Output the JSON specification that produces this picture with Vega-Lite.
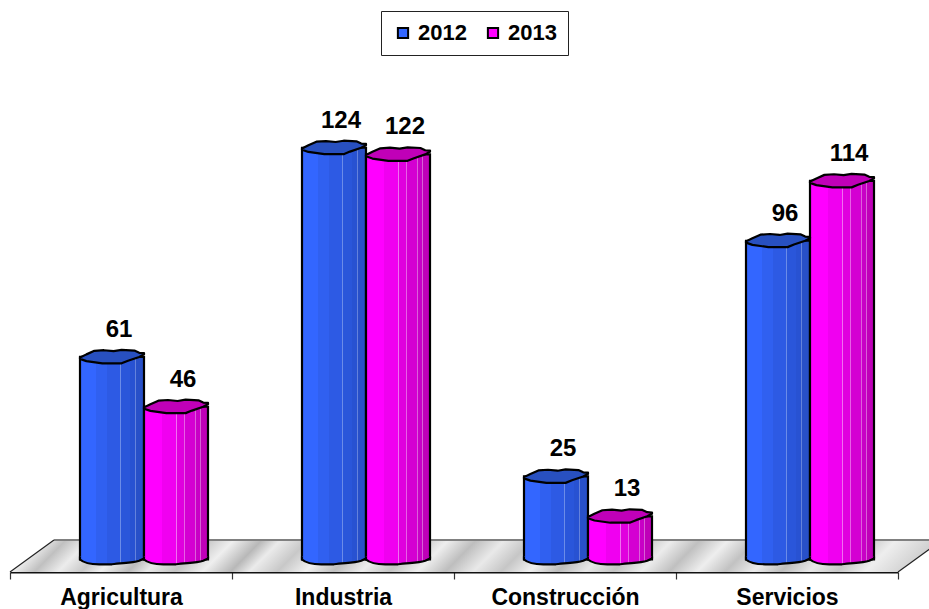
{
"$schema":"https://vega.github.io/schema/vega-lite/v6.json",
"width":929,"height":572,
"autosize":{"type":"none"},
"padding":{"left":0,"top":0,"right":0,"bottom":37},
"background":"white",
"config":{"view":{"stroke":null},"font":"Liberation Sans"},
"datasets":{
"rows":[
{"sector":"Agricultura","year":"2012","value":61},
{"sector":"Agricultura","year":"2013","value":46},
{"sector":"Industria","year":"2012","value":124},
{"sector":"Industria","year":"2013","value":122},
{"sector":"Construcción","year":"2012","value":25},
{"sector":"Construcción","year":"2013","value":13},
{"sector":"Servicios","year":"2012","value":96},
{"sector":"Servicios","year":"2013","value":114}
],
"floor":[
{"p":0,"top":-3.77,"bottom":-3.77},
{"p":0.198,"top":5.87,"bottom":-3.77},
{"p":4,"top":5.87,"bottom":-3.77},
{"p":4.198,"top":5.87,"bottom":5.87}
],
"edges":[
{"edge":"left","p":0,"v":-3.77},
{"edge":"left","p":0.198,"v":5.87},
{"edge":"back","p":0.198,"v":5.87},
{"edge":"back","p":4.198,"v":5.87},
{"edge":"right","p":4,"v":-3.77},
{"edge":"right","p":4.198,"v":5.87}
]
},
"resolve":{"scale":{"x":"independent"},"axis":{"x":"independent"}},
"layer":[
{
"data":{"name":"floor"},
"layer":[
{"mark":{"type":"area","clip":true,"fill":{"gradient":"linear","x1":0,"y1":0,"x2":1,"y2":0.034,"stops":[
{"offset":0,"color":"#eeeeee"},{"offset":0.02,"color":"#c4c4c4"},{"offset":0.035,"color":"#f0f0f0"},{"offset":0.06,"color":"#c0c0c0"},{"offset":0.085,"color":"#ececec"},{"offset":0.11,"color":"#cacaca"},{"offset":0.13,"color":"#f0f0f0"},{"offset":0.16,"color":"#bcbcbc"},{"offset":0.18,"color":"#e8e8e8"},{"offset":0.21,"color":"#c4c4c4"},{"offset":0.24,"color":"#efefef"},{"offset":0.27,"color":"#b8b8b8"},{"offset":0.29,"color":"#ebebeb"},{"offset":0.32,"color":"#c8c8c8"},{"offset":0.35,"color":"#f0f0f0"},{"offset":0.38,"color":"#c0c0c0"},{"offset":0.41,"color":"#ececec"},{"offset":0.44,"color":"#c4c4c4"},{"offset":0.47,"color":"#eeeeee"},{"offset":0.5,"color":"#bebebe"},{"offset":0.53,"color":"#e9e9e9"},{"offset":0.56,"color":"#c6c6c6"},{"offset":0.59,"color":"#f0f0f0"},{"offset":0.62,"color":"#bcbcbc"},{"offset":0.65,"color":"#e6e6e6"},{"offset":0.68,"color":"#c4c4c4"},{"offset":0.71,"color":"#ececec"},{"offset":0.74,"color":"#c0c0c0"},{"offset":0.77,"color":"#eeeeee"},{"offset":0.8,"color":"#c2c2c2"},{"offset":0.83,"color":"#ececec"},{"offset":0.86,"color":"#bebebe"},{"offset":0.89,"color":"#e8e8e8"},{"offset":0.92,"color":"#c8c8c8"},{"offset":0.95,"color":"#eeeeee"},{"offset":1,"color":"#cccccc"}
]}},
"encoding":{
"x":{"field":"p","type":"quantitative","axis":null,"scale":{"domain":[-0.045045,4.13964],"nice":false,"zero":false}},
"y":{"field":"top","type":"quantitative","axis":null,"scale":{"domain":[-3.77,168.5],"nice":false,"zero":false}},
"y2":{"field":"bottom"}
}},
{"data":{"name":"edges"},"transform":[{"filter":"datum.edge==='back'"}],
"mark":{"type":"line","clip":true,"stroke":"#808080","strokeWidth":2},
"encoding":{"x":{"field":"p","type":"quantitative","axis":null},"y":{"field":"v","type":"quantitative"}}},
{"data":{"name":"edges"},"transform":[{"filter":"datum.edge!=='back'"}],
"mark":{"type":"line","clip":true,"stroke":"#222222","strokeWidth":1.2},
"encoding":{"x":{"field":"p","type":"quantitative","axis":null},"y":{"field":"v","type":"quantitative"},"detail":{"field":"edge"}}}
]
},
{
"data":{"name":"rows"},
"encoding":{
"x":{"field":"sector","type":"nominal","sort":["Agricultura","Industria","Construcción","Servicios"],
"scale":{"range":[10,898],"paddingInner":0,"paddingOuter":0},
"axis":{"title":null,"orient":"bottom","labelAngle":0,"domainColor":"#111111","domainWidth":2,"tickColor":"#333333","tickWidth":1.2,"tickSize":7,"tickBand":"extent","labelFontSize":23,"labelFontWeight":"bold","labelColor":"black","labelFont":"Liberation Sans","labelPadding":7,"grid":false}},
"xOffset":{"field":"year","type":"nominal","scale":{"range":[70,198],"paddingInner":0,"paddingOuter":0}}
},
"layer":[
{"mark":{"type":"bar"},
"encoding":{
"y":{"field":"value","type":"quantitative","stack":null,"axis":null},
"fill":{"field":"year","type":"nominal","scale":{"domain":["2012","2013"],"range":["#3366ff","#ff00ff"]},
"legend":{"title":null,"orient":"none","legendX":381,"legendY":11,"direction":"horizontal","columns":2,"padding":11,"columnPadding":15,"strokeColor":"#222222","fillColor":"white","symbolType":"square","symbolSize":105,"symbolStrokeColor":"black","symbolStrokeWidth":2,"labelFontSize":22,"labelFontWeight":"bold","labelFont":"Liberation Sans","labelColor":"black","labelOffset":4}}
}},
{"mark":{"type":"bar","stroke":"black","strokeWidth":2.2},
"encoding":{
"y":{"field":"value","type":"quantitative","stack":null,"axis":null},
"fill":{"condition":{"test":"datum.year==='2012'","value":{"gradient":"linear","x1":0,"y1":0,"x2":1,"y2":0,"stops":[
{"offset":0,"color":"#3366ff"},{"offset":0.25,"color":"#3366ff"},{"offset":0.25,"color":"#3060f0"},{"offset":0.42,"color":"#3060f0"},{"offset":0.42,"color":"#2d5ae4"},{"offset":0.63,"color":"#2d5ae4"},{"offset":0.63,"color":"#6b8ce8"},{"offset":0.645,"color":"#6b8ce8"},{"offset":0.645,"color":"#2a56da"},{"offset":0.78,"color":"#2a56da"},{"offset":0.78,"color":"#2852d2"},{"offset":0.86,"color":"#2852d2"},{"offset":0.86,"color":"#6482dc"},{"offset":0.875,"color":"#6482dc"},{"offset":0.875,"color":"#2850c8"},{"offset":1,"color":"#2850c8"}
]}},"value":{"gradient":"linear","x1":0,"y1":0,"x2":1,"y2":0,"stops":[
{"offset":0,"color":"#ff00ff"},{"offset":0.28,"color":"#ff00ff"},{"offset":0.28,"color":"#f000f0"},{"offset":0.5,"color":"#f000f0"},{"offset":0.5,"color":"#f070f0"},{"offset":0.515,"color":"#f070f0"},{"offset":0.515,"color":"#e000de"},{"offset":0.63,"color":"#e000de"},{"offset":0.63,"color":"#e860e6"},{"offset":0.645,"color":"#e860e6"},{"offset":0.645,"color":"#d400d2"},{"offset":0.8,"color":"#d400d2"},{"offset":0.8,"color":"#dc60da"},{"offset":0.815,"color":"#dc60da"},{"offset":0.815,"color":"#c800c6"},{"offset":0.88,"color":"#c800c6"},{"offset":0.88,"color":"#d860d6"},{"offset":0.895,"color":"#d860d6"},{"offset":0.895,"color":"#bf00b8"},{"offset":1,"color":"#bf00b8"}
]}}
}},
{"mark":{"type":"point","filled":true,"opacity":1,"size":4096,"stroke":"black","strokeWidth":2.2,"strokeJoin":"round",
"shape":"M-1 -.09 L-1 0 C-.9 .09 -.7 .15 -.4 .15 L0 .15 C.3 .1 .6 .12 .85 .04 L1 -.03 L1 -.09"},
"encoding":{
"y":{"datum":0,"type":"quantitative"},
"fill":{"condition":{"test":"datum.year==='2012'","value":{"gradient":"linear","x1":0,"y1":0,"x2":1,"y2":0,"stops":[
{"offset":0,"color":"#3366ff"},{"offset":0.25,"color":"#3366ff"},{"offset":0.25,"color":"#3060f0"},{"offset":0.42,"color":"#3060f0"},{"offset":0.42,"color":"#2d5ae4"},{"offset":0.63,"color":"#2d5ae4"},{"offset":0.63,"color":"#6b8ce8"},{"offset":0.645,"color":"#6b8ce8"},{"offset":0.645,"color":"#2a56da"},{"offset":0.78,"color":"#2a56da"},{"offset":0.78,"color":"#2852d2"},{"offset":0.86,"color":"#2852d2"},{"offset":0.86,"color":"#6482dc"},{"offset":0.875,"color":"#6482dc"},{"offset":0.875,"color":"#2850c8"},{"offset":1,"color":"#2850c8"}
]}},
"value":{"gradient":"linear","x1":0,"y1":0,"x2":1,"y2":0,"stops":[
{"offset":0,"color":"#ff00ff"},{"offset":0.28,"color":"#ff00ff"},{"offset":0.28,"color":"#f000f0"},{"offset":0.5,"color":"#f000f0"},{"offset":0.5,"color":"#f070f0"},{"offset":0.515,"color":"#f070f0"},{"offset":0.515,"color":"#e000de"},{"offset":0.63,"color":"#e000de"},{"offset":0.63,"color":"#e860e6"},{"offset":0.645,"color":"#e860e6"},{"offset":0.645,"color":"#d400d2"},{"offset":0.8,"color":"#d400d2"},{"offset":0.8,"color":"#dc60da"},{"offset":0.815,"color":"#dc60da"},{"offset":0.815,"color":"#c800c6"},{"offset":0.88,"color":"#c800c6"},{"offset":0.88,"color":"#d860d6"},{"offset":0.895,"color":"#d860d6"},{"offset":0.895,"color":"#bf00b8"},{"offset":1,"color":"#bf00b8"}
]}}
}},
{"mark":{"type":"point","filled":true,"opacity":1,"size":4096,"stroke":"black","strokeWidth":2.2,"strokeJoin":"round",
"shape":"M-1 .02 L-.8 -.08 L-.55 -.19 L-.25 -.21 L.05 -.18 L.3 -.22 L.7 -.2 L.85 -.13 L1 -.12 L1 -.08 L.85 0 L.5 .12 L.3 .2 L-.3 .2 L-.8 .13 L-1 .06 Z"},
"encoding":{
"y":{"field":"value","type":"quantitative"},
"fill":{"condition":{"test":"datum.year==='2012'","value":"#2850c0"},"value":"#c000b8"}
}},
{"mark":{"type":"text","fontSize":24,"fontWeight":"bold","font":"Liberation Sans","color":"black","dx":7,"dy":-27},
"encoding":{
"y":{"field":"value","type":"quantitative"},
"text":{"field":"value","type":"quantitative"}
}}
]
}
]
}
